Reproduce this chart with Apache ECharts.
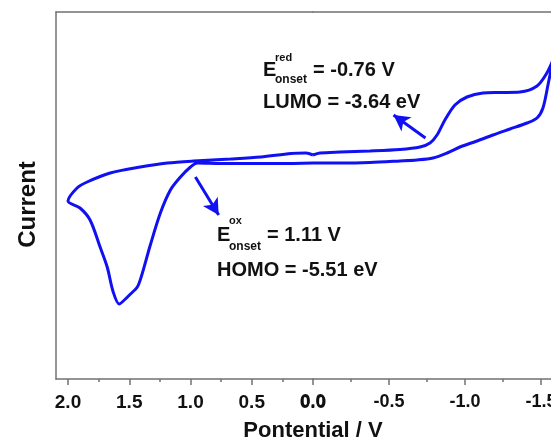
<!DOCTYPE html>
<html>
<head>
<meta charset="utf-8">
<script src="https://cdn.jsdelivr.net/npm/echarts@6/dist/echarts.min.js"></script>
<style>
  html, body { margin: 0; padding: 0; background: #fff; }
  #chart { width: 551px; height: 443px; }
</style>
</head>
<body>
<div id="chart"></div>
<script>
// left panel, 0.0 -> 2.0 V (upper branch) then back along the oxidation wave
var leftPotential = [0.0, 0.057, 0.18, 0.426, 0.672, 0.975, 1.189, 1.41, 1.656, 1.844, 1.926, 2.0,
  1.902, 1.82, 1.738, 1.68, 1.631, 1.582, 1.54, 1.49, 1.434, 1.4, 1.328, 1.246, 1.164, 1.082, 1.0,
  0.943, 0.754, 0.508, 0.262, 0.0];
var leftCurrent = [-0.1, 0.1, 0.05, -0.3, -0.5, -0.7, -0.9, -1.3, -1.9, -2.8, -3.4, -4.7,
  -5.4, -6.6, -9.3, -11.3, -13.8, -15.0, -14.6, -14.0, -13.3, -12.2, -9.1, -5.9, -3.6, -2.3, -1.3,
  -0.9, -0.95, -0.95, -0.95, -0.9];

// right panel, 0.0 -> -1.58 V (lower branch) then back along the reduction wave
var rightPotential = [0.0, -0.178, -0.375, -0.572, -0.684, -0.789, -0.882, -0.967, -1.079, -1.184,
  -1.296, -1.408, -1.474, -1.513, -1.546, -1.579,
  -1.539, -1.474, -1.362, -1.23, -1.118, -1.013, -0.934, -0.868, -0.816, -0.77, -0.704, -0.572,
  -0.375, -0.178, -0.046, 0.0];
var rightCurrent = [-0.9, -0.9, -0.85, -0.7, -0.6, -0.4, 0.1, 0.7, 1.3, 1.9,
  2.5, 3.1, 3.6, 4.6, 6.9, 9.4,
  8.1, 6.8, 6.2, 6.15, 6.1, 5.7, 4.9, 3.4, 1.9, 1.1, 0.7, 0.45,
  0.3, 0.2, 0.1, -0.1];

var leftTicks = [0, 0.5, 1.0, 1.5, 2.0];
var leftMinorTicks = [0.25, 0.75, 1.25, 1.75];
var rightTicks = [0, -0.5, -1.0, -1.5];
var rightMinorTicks = [-0.25, -0.75, -1.25];

var oxArrow = [[0.96, -2.3], [0.77, -6.1]];
var redArrow = [[-0.74, 1.6], [-0.53, 3.9]];

var blue = "#1010f2";
var frame = "#727272";
var font = "Liberation Sans, Arial, sans-serif";

function pairs(xs, ys) {
  return xs.map(function (x, i) { return [x, ys[i]]; });
}

function bottomAxis(grid, min, max, ticks, len, withLabels, size) {
  return {
    type: "value", gridIndex: grid, inverse: true, min: min, max: max, position: "bottom",
    axisLine: { show: withLabels, onZero: false, lineStyle: { color: frame, width: 1.5 } },
    axisTick: { show: true, inside: false, length: len, customValues: ticks,
      lineStyle: { color: frame, width: 1.5 } },
    axisLabel: { show: withLabels, customValues: ticks, margin: 14, color: "#111",
      fontFamily: font, fontWeight: "bold", fontSize: size,
      formatter: function (v) { return v.toFixed(1); } },
    splitLine: { show: false }
  };
}

function topAxis(grid, min, max) {
  return {
    type: "value", gridIndex: grid, inverse: true, min: min, max: max, position: "top",
    axisLine: { show: true, onZero: false, lineStyle: { color: frame, width: 1.5 } },
    axisTick: { show: false }, axisLabel: { show: false }, splitLine: { show: false }
  };
}

function arrowMark(a) {
  return {
    silent: true, animation: false,
    symbol: ["none", "arrow"], symbolSize: [13, 16],
    lineStyle: { color: blue, width: 3, type: "solid" },
    label: { show: false },
    data: [[{ coord: a[0] }, { coord: a[1] }]]
  };
}

var chart = echarts.init(document.getElementById("chart"));

var textBold = function (x, y, t, size) {
  return { type: "text", x: x, y: y, style: { text: t, fill: "#111", font: "bold " + size + "px " + font,
    textVerticalAlign: "middle" } };
};

chart.setOption({
  animation: false,
  grid: [
    { left: 56, top: 12, width: 257, bottom: 64, outerBoundsMode: "none", containLabel: false },
    { left: 313, top: 12, width: 238, bottom: 64, outerBoundsMode: "none", containLabel: false }
  ],
  xAxis: [
    bottomAxis(0, 0, 2.098, leftTicks, 6, true, 19),
    bottomAxis(0, 0, 2.098, leftMinorTicks, 3, false, 19),
    topAxis(0, 0, 2.098),
    bottomAxis(1, -1.566, 0, rightTicks, 6, true, 18),
    bottomAxis(1, -1.566, 0, rightMinorTicks, 3, false, 18),
    topAxis(1, -1.566, 0)
  ],
  yAxis: [
    {
      type: "value", gridIndex: 0, min: -22.5, max: 14.2, position: "left",
      name: "Current", nameLocation: "middle", nameGap: 16,
      nameTextStyle: { fontFamily: font, fontWeight: "bold", fontSize: 24, color: "#111",
        padding: [0, 18, 0, 0] },
      axisLine: { show: true, onZero: false, lineStyle: { color: frame, width: 1.5 } },
      axisTick: { show: false }, axisLabel: { show: false }, splitLine: { show: false }
    },
    { type: "value", gridIndex: 1, min: -22.5, max: 14.2, show: false, splitLine: { show: false } }
  ],
  series: [
    {
      type: "line", xAxisIndex: 0, yAxisIndex: 0, data: pairs(leftPotential, leftCurrent),
      showSymbol: false, smooth: 0.3, lineStyle: { color: blue, width: 3 },
      markLine: arrowMark(oxArrow)
    },
    {
      type: "line", xAxisIndex: 3, yAxisIndex: 1, data: pairs(rightPotential, rightCurrent),
      showSymbol: false, smooth: 0.3, lineStyle: { color: blue, width: 3 },
      markLine: arrowMark(redArrow)
    }
  ],
  graphic: [
    textBold(263, 70, "E", 20),
    textBold(275, 58, "red", 11),
    textBold(275, 80, "onset", 12),
    textBold(313, 70, "= -0.76 V", 20),
    textBold(263, 102, "LUMO = -3.64 eV", 20),
    textBold(217, 235, "E", 20),
    textBold(229, 221, "ox", 11),
    textBold(229, 247, "onset", 12),
    textBold(267, 235, "= 1.11 V", 20),
    textBold(217, 270, "HOMO = -5.51 eV", 20),
    { type: "text", x: 313, y: 431, style: { text: "Pontential / V", fill: "#111",
      font: "bold 22px " + font, textAlign: "center", textVerticalAlign: "middle" } }
  ]
});
</script>
</body>
</html>
